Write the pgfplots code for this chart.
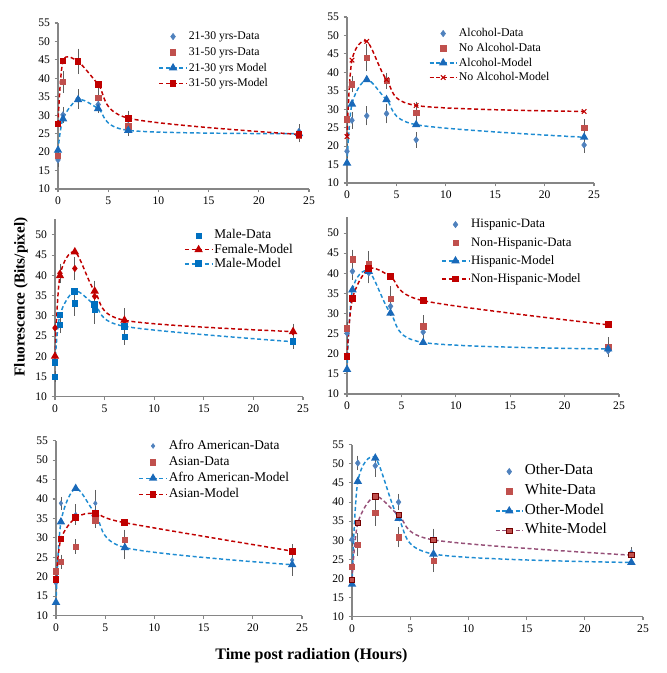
\documentclass[border=0pt]{standalone}
\usepackage{fontspec}
\setmainfont{Liberation Serif}
\usepackage{pgfplots}
\pgfplotsset{compat=1.18}

\definecolor{dblue}{RGB}{79,129,189}
\definecolor{dred}{RGB}{192,80,77}
\definecolor{mblue}{RGB}{30,140,210}
\definecolor{mbluemk}{RGB}{25,105,185}
\definecolor{mred}{RGB}{192,0,0}
\definecolor{mauve}{RGB}{150,80,120}
\definecolor{errgray}{RGB}{95,95,95}
\definecolor{axgray}{RGB}{134,134,134}
\definecolor{mdblue}{RGB}{0,112,192}

\pgfplotsset{
 panel/.style={scale only axis, axis lines=left, axis line style={-, draw=axgray, line width=1.1pt},
   xmin=0, xmax=25, xtick={0,5,...,25}, ymin=10, tick align=outside, major tick length=2.5pt,
   tick style={draw=axgray, line width=0.8pt}, tick label style={font=\fontsize{8.7}{9}\selectfont},
   /pgf/number format/assume math mode=true, clip=false, legend cell align=left,
   legend image code/.code={\draw[mark repeat=2,mark phase=2,##1] plot coordinates {(0cm,0cm) (0.36cm,0cm) (0.72cm,0cm)};},
   legend style={draw=none, fill=none, anchor=north west, inner sep=0pt,
     nodes={inner sep=1pt, text height=7pt, text depth=2pt}}},
 errb/.style={error bars/.cd, y dir=both, y explicit,
   error bar style={errgray, line width=0.6pt, solid},
   error mark options={errgray, mark size=1.8pt, line width=0.6pt}, /pgfplots/.cd},
 dB/.style={only marks, mark=diamond*, mark size=2.4pt, color=dblue, errb},
 dBs/.style={only marks, mark=square*, mark size=2pt, color=mdblue, errb},
 dR/.style={only marks, mark=square*, mark size=2pt, color=dred, errb},
 dRd/.style={only marks, mark=diamond*, mark size=2.4pt, color=mred, errb},
 mline/.style={densely dashed, line width=1.1pt, smooth, tension=0.5},
 mB/.style={mline, color=mblue, mark=triangle*, mark size=2.6pt, mark options={solid, fill=mbluemk, draw=mbluemk}},
 mBs/.style={mline, color=mblue, mark=square*, mark size=2pt, mark options={solid, fill=mdblue, draw=mdblue}},
 mR/.style={mline, color=mred, mark=square*, mark size=2pt, mark options={solid, fill=mred, draw=mred}},
 mRt/.style={mline, color=mred, mark=triangle*, mark size=2.6pt, mark options={solid, fill=mred, draw=mred}},
 mRx/.style={mline, color=mred, mark=x, mark size=2.4pt, mark options={solid, draw=mred, line width=0.8pt}},
 mW/.style={mline, color=mauve, mark=square*, mark size=2pt, mark options={solid, fill=dred, draw=mred!60!black, line width=0.6pt}},
}

\begin{document}
\begin{tikzpicture}
\path[use as bounding box] (0,0) rectangle (499.5pt,504.75pt);

% ---------- Panel 1 ----------
\begin{axis}[panel, at={(43.5pt,363pt)}, anchor=south west, width=188.25pt, height=124.5pt,
  ymax=55, ytick={10,15,...,55},
  legend style={at={(0.40,0.964)}, font=\fontsize{8.8}{9}\selectfont, row sep=0.75pt}]
\addplot[dB] table[y error index=2, row sep=\\]{0 17.9 1.2\\ 0.5 30.1 1.5\\ 2 34.4 2.0\\ 4 32.9 1.7\\ 7 28.8 1.8\\ 24 25.6 1.3\\};
\addlegendentry{21-30 yrs-Data}
\addplot[dR] table[y error index=2, row sep=\\]{0 19 1.0\\ 0.5 39 2.3\\ 2 44.6 2.8\\ 4 34.8 1.8\\ 7 27 2.0\\ 24 24.6 1.3\\};
\addlegendentry{31-50 yrs-Data}
\addplot[mB] coordinates {(0,20.5) (0.5,29) (2,34.2) (4,31.8) (7,25.9) (24,25)};
\addlegendentry{21-30 yrs Model}
\addplot[mR] coordinates {(0,27.6) (0.5,44.7) (2,44.5) (4,38.4) (7,29.2) (24,24.8)};
\addlegendentry{31-50 yrs-Model}
\end{axis}

% ---------- Panel 2 ----------
\begin{axis}[panel, at={(260.25pt,367.5pt)}, anchor=south west, width=185.25pt, height=124.5pt,
  ymax=55, ytick={10,15,...,55},
  legend style={at={(0.33,0.946)}, font=\fontsize{8.9}{9}\selectfont, row sep=0pt}]
\addplot[dB] table[y error index=2, row sep=\\]{0 18.6 1.3\\ 0.5 27 1.6\\ 2 28.2 1.9\\ 4 28.8 2.0\\ 7 21.7 1.5\\ 24 20.3 1.5\\};
\addlegendentry{Alcohol-Data}
\addplot[dR] table[y error index=2, row sep=\\]{0 27.3 1.5\\ 0.5 36.8 1.6\\ 2 44 3.1\\ 4 37.7 1.6\\ 7 29 2.4\\ 24 24.9 1.8\\};
\addlegendentry{No Alcohol-Data}
\addplot[mB] coordinates {(0,15.4) (0.5,31.4) (2,38) (4,32.6) (7,25.8) (24,22.4)};
\addlegendentry{Alcohol-Model}
\addplot[mRx] coordinates {(0,22.6) (0.5,43.3) (2,48.4) (4,38) (7,31) (24,29.4)};
\addlegendentry{No Alcohol-Model}
\end{axis}

% ---------- Panel 3 ----------
\begin{axis}[panel, at={(41.25pt,207.2pt)}, anchor=south west, width=186pt, height=133.5pt,
  ymax=54, ytick={10,15,...,50},
  legend style={at={(0.52,0.948)}, font=\fontsize{10}{9}\selectfont, row sep=-0.4pt}]
\addplot[dBs] table[y error index=2, row sep=\\]{0 15 0.8\\ 0.5 27.8 1.5\\ 2 33.1 2.5\\ 4 31.6 3\\ 7 24.8 1.3\\ 24 23.7 1.3\\};
\addlegendentry{Male-Data}
\addplot[dRd, forget plot] table[y error index=2, row sep=\\]{0 27 1\\ 0.5 40.5 1.8\\ 2 41.7 2.3\\ 4 34.8 3.3\\ 7 28.8 2.5\\ 24 26 1.5\\};
\addplot[mRt] coordinates {(0,20) (0.5,39.9) (2,45.8) (4,36.1) (7,28.9) (24,26.1)};
\addlegendentry{Female-Model}
\addplot[mBs] coordinates {(0,18.4) (0.5,30.2) (2,36.1) (4,32.7) (7,27.4) (24,23.6)};
\addlegendentry{Male-Model}
\end{axis}

% ---------- Panel 4 ----------
\begin{axis}[panel, at={(260.25pt,209.25pt)}, anchor=south west, width=204pt, height=132.75pt,
  ymax=54, ytick={10,15,...,50},
  legend style={at={(0.345,1.0)}, font=\fontsize{9.6}{9}\selectfont, row sep=2.6pt}]
\addplot[dB] table[y error index=2, row sep=\\]{0 25.1 1\\ 0.5 40.5 1.5\\ 2 40.1 2\\ 4 31.8 1.7\\ 7 25.4 1.4\\ 24 20.7 1\\};
\addlegendentry{Hispanic-Data}
\addplot[dR] table[y error index=2, row sep=\\]{0 26.3 1\\ 0.5 43.5 1.8\\ 2 42.4 2.6\\ 4 33.7 2.5\\ 7 26.8 2.2\\ 24 21.8 1.7\\};
\addlegendentry{Non-Hispanic-Data}
\addplot[mB] coordinates {(0,16.1) (0.5,35.9) (2,40.5) (4,30.1) (7,22.8) (24,21.2)};
\addlegendentry{Hispanic-Model}
\addplot[mR] coordinates {(0,19.3) (0.5,33.7) (2,41.1) (4,39.2) (7,33.2) (24,27.2)};
\addlegendentry{Non-Hispanic-Model}
\end{axis}

% ---------- Panel 5 ----------
\begin{axis}[panel, at={(42pt,43pt)}, anchor=south west, width=184.5pt, height=131.25pt,
  ymax=55, ytick={10,15,...,55},
  legend style={at={(0.335,1.013)}, font=\fontsize{10}{9}\selectfont, row sep=1.1pt}]
\addplot[dB, mark size=1.8pt] table[y error index=2, row sep=\\]{0 18.3 1\\ 0.5 38.9 1\\ 2 36 2\\ 4 38.9 2.8\\ 7 27.6 2.5\\ 24 24.3 3.4\\};
\addlegendentry{Afro American-Data}
\addplot[dR] table[y error index=2, row sep=\\]{0 21.4 0.6\\ 0.5 23.9 1.2\\ 2 27.8 1.2\\ 4 34.5 1.3\\ 7 29.6 1.9\\ 24 26.4 1.3\\};
\addlegendentry{Asian-Data}
\addplot[mB] coordinates {(0,13.4) (0.5,34.1) (2,42.7) (4,36.2) (7,27.5) (24,23.1)};
\addlegendentry{Afro American-Model}
\addplot[mR] coordinates {(0,19.3) (0.5,29.7) (2,35.2) (4,36.3) (7,33.9) (24,26.6)};
\addlegendentry{Asian-Model}
\end{axis}

% ---------- Panel 6 ----------
\begin{axis}[panel, at={(264pt,42.2pt)}, anchor=south west, width=218.25pt, height=129pt,
  ymax=55, ytick={10,15,...,55},
  legend style={at={(0.49,0.888)}, font=\fontsize{11.4}{9}\selectfont, row sep=3.75pt}]
\addplot[dB] table[y error index=2, row sep=\\]{0 30.2 1\\ 0.5 50.2 1.3\\ 2 49.5 2.2\\ 4 40 1.5\\ 7 30.2 2.2\\ 24 26.7 0.8\\};
\addlegendentry{Other-Data}
\addplot[dR] table[y error index=2, row sep=\\]{0 23 1\\ 0.5 28.9 2.3\\ 2 37.2 2.8\\ 4 30.8 2\\ 7 24.7 2.4\\ 24 26.2 1\\};
\addlegendentry{White-Data}
\addplot[mB] coordinates {(0,18.5) (0.5,45.4) (2,51.5) (4,35.7) (7,26.4) (24,24.2)};
\addlegendentry{Other-Model}
\addplot[mW] coordinates {(0,19.6) (0.5,34.5) (2,41.5) (4,36.6) (7,30.1) (24,26.1)};
\addlegendentry{White-Model}
\end{axis}

\node[rotate=90, font=\bfseries\fontsize{11.4}{12}\selectfont] at (15.75pt,282pt) {Fluorescence (Bits/pixel)};
\node[font=\bfseries\fontsize{12}{13}\selectfont] at (233.6pt,13pt) {Time post radiation (Hours)};
\end{tikzpicture}
\end{document}
